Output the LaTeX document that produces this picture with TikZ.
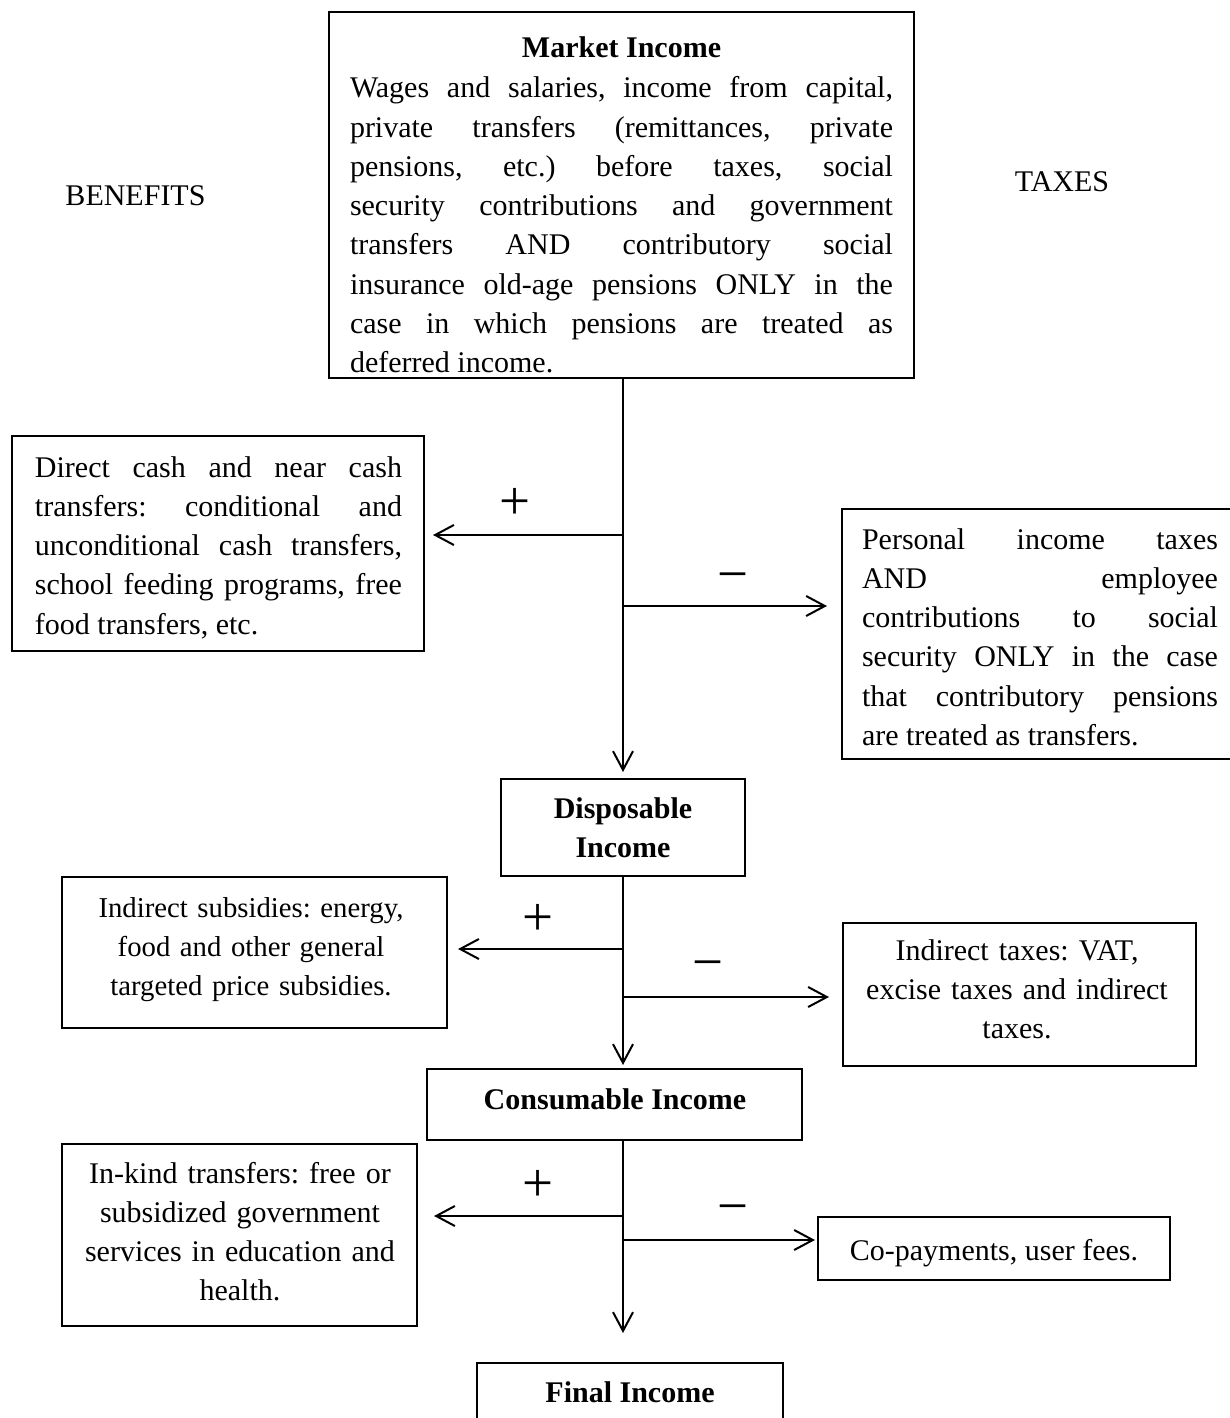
\documentclass[tikz,border=0pt]{standalone}
\usepackage{fontspec}
\setmainfont{Liberation Serif}
\usetikzlibrary{arrows.meta}
\begin{document}
\frenchspacing
\begin{tikzpicture}[x=0.4pt,y=-0.4pt,
  box/.style={draw, line width=0.8pt, inner sep=0pt, rectangle},
  txt/.style={inner sep=0pt, anchor=base, font=\fontsize{12pt}{15.7pt}\selectfont},
  btxt/.style={txt, font=\fontsize{12pt}{15.7pt}\selectfont\bfseries},
  jtxt/.style={txt, align=justify, text width=#1},
  ctxt/.style={txt, align=center, text width=#1},
  sign/.style={inner sep=0pt, anchor=base, font=\fontsize{22pt}{22pt}\selectfont},
  flow/.style={line width=0.8pt},
  arr/.style={flow, -{Straight Barb[length=7.5pt,width=8pt]}}
]
\clip (0,0) rectangle (1230,1418);
\fill[white] (0,0) rectangle (1230,1418);
\tolerance=10000 \hbadness=10000

% boxes
\node[box, minimum width=234pt, minimum height=146.4pt] (mkt) at (621.5,195) {};
\node[box, minimum width=164.8pt, minimum height=86pt] (ben1) at (218,543.5) {};
\node[box, minimum width=161.2pt, minimum height=100pt] (tax1) at (1043.5,634) {};
\node[box, minimum width=97.6pt, minimum height=38.8pt] (disp) at (623,827.5) {};
\node[box, minimum width=154pt, minimum height=60.4pt] (ben2) at (254.5,952.5) {};
\node[box, minimum width=141.2pt, minimum height=57.2pt] (tax2) at (1019.5,994.5) {};
\node[box, minimum width=150pt, minimum height=28.4pt] (cons) at (614.5,1104.5) {};
\node[box, minimum width=142pt, minimum height=72.8pt] (ben3) at (239.5,1235) {};
\node[box, minimum width=140.8pt, minimum height=25.2pt] (tax3) at (994,1248.5) {};
\node[box, minimum width=122.4pt, minimum height=30.8pt] (fin) at (630,1401.5) {};

% texts
\node[txt] (benlbl) at (135.5,206) {BENEFITS};
\node[txt] (taxlbl) at (1062,192) {TAXES};
\node[btxt] (mkttitle) at (621.5,58) {Market Income};
\node[jtxt=217.2pt] (mkttext) at (621.5,98) {{\tolerance=10000 Wages and salaries, income from capital, \linebreak private transfers (remittances, private \linebreak pensions, etc.) before taxes, social \linebreak security contributions and government \linebreak transfers AND contributory social \linebreak insurance old-age pensions ONLY in the \linebreak case in which pensions are treated as \linebreak deferred income.\par}};
\node[jtxt=146.8pt] (ben1text) at (218.5,477) {{\tolerance=10000 Direct cash and near cash \linebreak transfers: conditional and \linebreak unconditional cash transfers, \linebreak school feeding programs, free \linebreak food transfers, etc.\par}};
\node[jtxt=142.4pt] (tax1text) at (1040,549) {{\tolerance=10000 Personal income taxes \linebreak AND employee \linebreak contributions to social \linebreak security ONLY in the case \linebreak that contributory pensions \linebreak are treated as transfers.\par}};
\node[ctxt=90pt, font=\fontsize{12pt}{15.7pt}\selectfont\bfseries] (disptext) at (623,818) {Disposable\\Income};
\node[ctxt=140pt, font=\fontsize{11.5pt}{15.7pt}\selectfont] (ben2text) at (251,917) {Indirect subsidies: energy,\\food and other general\\targeted price subsidies.};
\node[ctxt=135pt] (tax2text) at (1017,960) {Indirect taxes: VAT,\\excise taxes and indirect\\taxes.};
\node[btxt] (constext) at (615,1109) {Consumable Income};
\node[ctxt=135pt] (ben3text) at (240,1183) {In-kind transfers: free or\\subsidized government\\services in education and\\health.};
\node[txt] (tax3text) at (994,1260) {Co-payments, user fees.};
\node[btxt] (fintext) at (630,1402) {Final Income};

% signs
\node[sign] (p1) at (515,519) {+};
\node[sign] (m1) at (733,592) {−};
\node[sign] (p2) at (538,935) {+};
\node[sign] (m2) at (708,980) {−};
\node[sign] (p3) at (538,1201) {+};
\node[sign] (m3) at (733,1224) {−};

% junctions
\coordinate (j1p) at (623,535);
\coordinate (j1m) at (623,606);
\coordinate (j2p) at (623,949);
\coordinate (j2m) at (623,997);
\coordinate (j3p) at (623,1216);
\coordinate (j3m) at (623,1240);

% connectors
\draw[arr, shorten >=2.4pt] (disp.north |- mkt.south) -- (disp.north);
\draw[arr, shorten >=3.2pt] (j1p) -- (ben1.east |- j1p);
\draw[arr, shorten >=5.6pt] (j1m) -- (tax1.west |- j1m);
\draw[arr, shorten >=1.2pt] (disp.south) -- (disp.south |- cons.north);
\draw[arr, shorten >=4pt] (j2p) -- (ben2.east |- j2p);
\draw[arr, shorten >=5.2pt] (j2m) -- (tax2.west |- j2m);
\draw[arr, shorten >=11.6pt] (disp.south |- cons.south) -- (disp.south |- fin.north);
\draw[arr, shorten >=6.4pt] (j3p) -- (ben3.east |- j3p);
\draw[arr, shorten >=0.8pt] (j3m) -- (tax3.west |- j3m);
\end{tikzpicture}
\end{document}
